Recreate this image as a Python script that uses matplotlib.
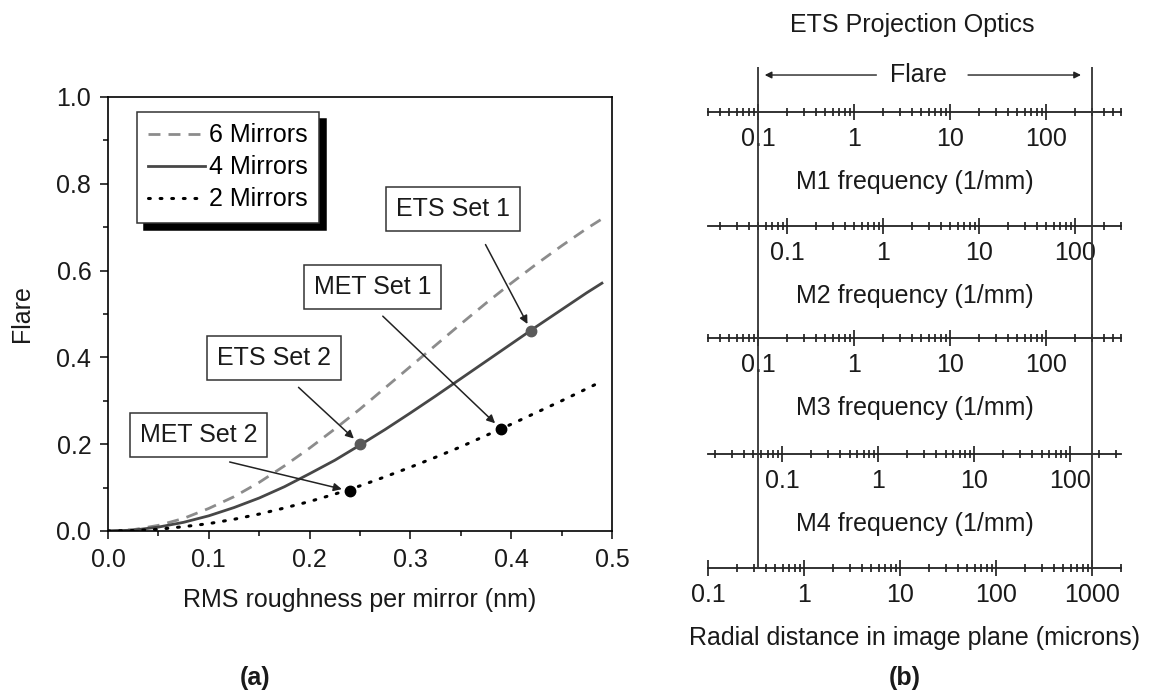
import matplotlib.pyplot as plt
from matplotlib.ticker import (MultipleLocator, FormatStrFormatter, LogLocator,
                               FuncFormatter, NullFormatter)

plt.rcParams['font.family'] = ['Liberation Sans', 'DejaVu Sans']
plt.rcParams['font.size'] = 18
plt.rcParams['axes.linewidth'] = 1.2

# flare vs. rms roughness for 6, 4 and 2 mirror systems
rms = [0.0, 0.025, 0.05, 0.075, 0.1, 0.125, 0.15, 0.175, 0.2, 0.225, 0.25,
       0.275, 0.3, 0.325, 0.35, 0.375, 0.4, 0.425, 0.45, 0.475, 0.49]
flare_6 = [0.0, 0.003, 0.013, 0.029, 0.052, 0.079, 0.112, 0.150, 0.191, 0.235, 0.281,
           0.330, 0.379, 0.428, 0.477, 0.525, 0.571, 0.615, 0.657, 0.697, 0.719]
flare_4 = [0.0, 0.002, 0.009, 0.020, 0.035, 0.054, 0.076, 0.102, 0.132, 0.163, 0.198,
           0.234, 0.272, 0.311, 0.351, 0.391, 0.431, 0.471, 0.510, 0.549, 0.571]
flare_2 = [0.0, 0.001, 0.004, 0.010, 0.017, 0.027, 0.039, 0.053, 0.068, 0.085, 0.104,
           0.125, 0.147, 0.170, 0.194, 0.220, 0.246, 0.273, 0.300, 0.328, 0.345]

ets_names = ['ETS Set 1', 'ETS Set 2']
ets_rms = [0.42, 0.25]
ets_flare = [0.46, 0.20]
met_names = ['MET Set 1', 'MET Set 2']
met_rms = [0.39, 0.24]
met_flare = [0.235, 0.092]

# label box centre and arrow start, data coords
ets_box = [(0.342, 0.741), (0.165, 0.398)]
ets_tail = [(0.3745, 0.66), (0.189, 0.331)]
met_box = [(0.2625, 0.563), (0.09, 0.221)]
met_tail = [(0.2726, 0.495), (0.1207, 0.159)]

# panel (b): radial distance (microns) and spatial frequency per mirror
radial_lim = [0.1, 2000]
flare_edges = [0.33, 1000]
mirror_names = ['M1', 'M2', 'M3', 'M4']
freq_per_micron = [0.3, 0.15, 0.3, 0.168]

W, H = 1152, 692
fig = plt.figure(figsize=(W / 100, H / 100), dpi=100)


def rect(x0, y0, x1, y1):
    return [x0 / W, 1 - y1 / H, (x1 - x0) / W, (y1 - y0) / H]


ink = '#1a1a1a'

# ---- (a) flare curves ----
ax = fig.add_axes(rect(108, 97, 612, 531))
ax.plot(rms, flare_6, color='#8c8c8c', lw=2, dashes=(4.3, 2.9), label='6 Mirrors')
ax.plot(rms, flare_4, color='#474747', lw=2, label='4 Mirrors')
ax.plot(rms, flare_2, color='black', lw=2.2, linestyle=(0, (0.6, 3.2)),
        dash_capstyle='round', label='2 Mirrors')
ax.plot(ets_rms, ets_flare, 'o', color='#5a5a5a', ms=7.5, zorder=5)
ax.plot(met_rms, met_flare, 'o', color='black', ms=7.5, zorder=5)

box = dict(boxstyle='square,pad=0.4', fc='white', ec='#333333', lw=1.1)
arrow = dict(arrowstyle='-|>', color='#222222', lw=1.1, mutation_scale=12,
             shrinkA=0, shrinkB=6)
for name, c, t, x, y in zip(ets_names + met_names, ets_box + met_box,
                            ets_tail + met_tail, ets_rms + met_rms,
                            ets_flare + met_flare):
    ax.text(c[0], c[1], name, ha='center', va='center', color=ink, bbox=box)
    ax.annotate('', xy=(x, y), xytext=t, arrowprops=arrow)

ax.set_xlim(0, 0.5)
ax.set_ylim(0, 1.0)
ax.xaxis.set_major_locator(MultipleLocator(0.1))
ax.xaxis.set_minor_locator(MultipleLocator(0.05))
ax.yaxis.set_major_locator(MultipleLocator(0.2))
ax.yaxis.set_minor_locator(MultipleLocator(0.1))
ax.xaxis.set_major_formatter(FormatStrFormatter('%.1f'))
ax.yaxis.set_major_formatter(FormatStrFormatter('%.1f'))
ax.tick_params(which='major', direction='out', length=6, width=1.2, colors=ink, pad=6)
ax.tick_params(which='minor', direction='out', length=3.5, width=1.2, colors=ink)
ax.set_xlabel('RMS roughness per mirror (nm)', labelpad=12, color=ink)
ax.set_ylabel('Flare', labelpad=16, color=ink)

leg = ax.legend(loc='upper left', bbox_to_anchor=(0.057, 0.965), fancybox=False,
                framealpha=1, edgecolor='#333333', handlelength=2.3,
                handletextpad=0.15, labelspacing=0.32, borderpad=0.45,
                borderaxespad=0,
                shadow={'ox': 5, 'oy': -5, 'facecolor': 'black',
                        'edgecolor': 'black', 'alpha': 1})
leg.get_frame().set_linewidth(1.1)

fig.text(255 / W, 1 - 678 / H, '(a)', ha='center', va='center',
         fontweight='bold', color=ink)

# ---- (b) spatial frequency scales ----
fig.text(912 / W, 1 - 25 / H, 'ETS Projection Optics', ha='center', va='center',
         color=ink, fontsize=18)


def log_scale(y, lo, hi, label, labelpad):
    s = fig.add_axes(rect(708, y - 0.5, 1121, y))
    s.patch.set_visible(False)
    for side in ['left', 'right', 'top']:
        s.spines[side].set_visible(False)
    s.spines['bottom'].set_linewidth(1.3)
    s.spines['bottom'].set_color('#222222')
    s.set_xscale('log')
    s.set_xlim(lo, hi)
    s.set_yticks([])
    s.xaxis.set_major_locator(LogLocator(base=10, numticks=20))
    s.xaxis.set_minor_locator(LogLocator(base=10, subs=range(2, 10), numticks=50))
    s.xaxis.set_major_formatter(FuncFormatter(lambda v, p: '%g' % v))
    s.xaxis.set_minor_formatter(NullFormatter())
    s.tick_params(which='major', direction='inout', length=11, width=1.2,
                  colors=ink, pad=5)
    s.tick_params(which='minor', direction='inout', length=6, width=1.2, colors=ink)
    s.set_xlabel(label, labelpad=labelpad, color=ink)
    return s


for name, k, y in zip(mirror_names, freq_per_micron, [112, 226, 338, 454]):
    log_scale(y, radial_lim[0] * k, radial_lim[1] * k,
              name + ' frequency (1/mm)', 14)
log_scale(568, radial_lim[0], radial_lim[1],
          'Radial distance in image plane (microns)', 14)

# flare window drawn on the radial scale
ov = fig.add_axes(rect(708, 67, 1121, 568))
ov.set_xscale('log')
ov.set_xlim(radial_lim)
ov.set_ylim(0, 1)
ov.axis('off')
ov.vlines(flare_edges, 0, 1, color='#333333', lw=1.3)
ov.text(15.4, 0.984, 'Flare', ha='center', va='center', color=ink)
flare_arrow = dict(arrowstyle='-|>', color='#222222', lw=1, mutation_scale=10)
ov.annotate('', xy=(flare_edges[0], 0.984), xytext=(15.4, 0.984),
            arrowprops=dict(flare_arrow, shrinkA=30, shrinkB=5))
ov.annotate('', xy=(flare_edges[1], 0.984), xytext=(15.4, 0.984),
            arrowprops=dict(flare_arrow, shrinkA=36, shrinkB=8))

fig.text(905 / W, 1 - 678 / H, '(b)', ha='center', va='center',
         fontweight='bold', color=ink)

fig.savefig('out.png', dpi=100)
